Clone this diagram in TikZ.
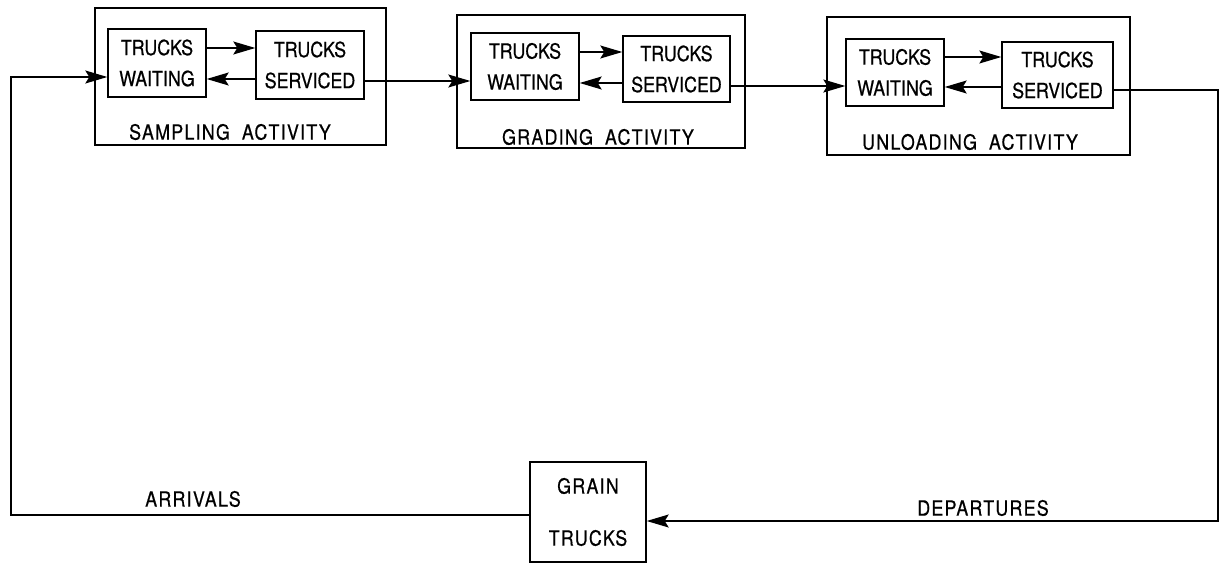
\documentclass[tikz,border=0pt]{standalone}
\usepackage{fontspec}
\setmainfont{TeX Gyre Heros}[FakeStretch=0.85,FakeBold=0.6]
\newfontfamily\spaced{TeX Gyre Heros}[FakeStretch=0.85,FakeBold=0.6,LetterSpace=6]
\usetikzlibrary{arrows.meta}
\begin{document}
\begin{tikzpicture}[x=1pt,y=-1pt,
  outer/.style={draw, line width=1.5pt, inner sep=0pt},
  inbox/.style={draw, line width=1.4pt, align=center, inner sep=0pt, font=\fontsize{21}{31}\selectfont},
  lab/.style={font=\fontsize{21}{25}\selectfont\spaced, inner sep=0pt},
  arr/.style={line width=1.3pt, -{Stealth[length=22pt,width=13pt,inset=4pt]}},
  ln/.style={line width=1.3pt}]
\useasboundingbox (0,0) rectangle (1222,564);
% activity boxes
\node[outer, minimum width=291pt, minimum height=137pt] (sa) at (240.5,76.5) {};
\node[outer, minimum width=288pt, minimum height=133pt] (ga) at (601,81.5) {};
\node[outer, minimum width=303pt, minimum height=138pt] (ua) at (978.5,86) {};
% inner boxes
\node[inbox, minimum width=98pt, minimum height=68pt] (sw) at (157,63) {TRUCKS\\WAITING};
\node[inbox, minimum width=108pt, minimum height=68pt] (ss) at (310,65) {TRUCKS\\SERVICED};
\node[inbox, minimum width=108pt, minimum height=67pt] (gw) at (525,66.5) {TRUCKS\\WAITING};
\node[inbox, minimum width=107pt, minimum height=66pt] (gs) at (676.5,69) {TRUCKS\\SERVICED};
\node[inbox, minimum width=98pt, minimum height=67pt] (uw) at (895,72.5) {TRUCKS\\WAITING};
\node[inbox, minimum width=111pt, minimum height=66pt] (us) at (1057.5,75) {TRUCKS\\SERVICED};
% activity labels
\node[lab] (sl) at (230,132) {SAMPLING\hspace{12pt}ACTIVITY};
\node[lab] (gl) at (598,137) {GRADING\hspace{12pt}ACTIVITY};
\node[lab] (ul) at (970,142) {UNLOADING\hspace{12pt}ACTIVITY};
% grain trucks
\node[draw, line width=1.4pt, minimum width=116pt, minimum height=100pt, inner sep=0pt, align=center,
  font=\fontsize{21}{52}\selectfont\spaced] (gt) at (588,512) {GRAIN\\TRUCKS};
\node[lab] (arl) at (193,499) {ARRIVALS};
\node[lab] (dpl) at (983,508) {DEPARTURES};
% helper coordinates
\coordinate (s1) at (230,48);
\coordinate (s2) at (230,79);
\coordinate (g1) at (600,52);
\coordinate (g2) at (600,83);
\coordinate (u1) at (970,57);
\coordinate (u2) at (970,87);
\coordinate (m1) at (420,81);
\coordinate (m2) at (790,86);
\coordinate (tl) at (11,77);
\coordinate (bl) at (11,515);
\coordinate (tr) at (1218,90);
\coordinate (br) at (1218,521);
% internal arrows
\draw[arr] (sw.east |- s1) -- (ss.west |- s1);
\draw[arr] (ss.west |- s2) -- (sw.east |- s2);
\draw[arr] (gw.east |- g1) -- (gs.west |- g1);
\draw[arr] (gs.west |- g2) -- (gw.east |- g2);
\draw[arr] (uw.east |- u1) -- (us.west |- u1);
\draw[arr] (us.west |- u2) -- (uw.east |- u2);
% flow between activities
\draw[arr] (ss.east |- m1) -- (gw.west |- m1);
\draw[arr] (gs.east |- m2) -- (uw.west |- m2);
% return loop
\draw[arr] (us.east |- tr) -- (tr) -- (br) -- (gt.east |- br);
\draw[arr] (gt.west |- bl) -- (bl) -- (tl) -- (sw.west |- tl);
\end{tikzpicture}
\end{document}
